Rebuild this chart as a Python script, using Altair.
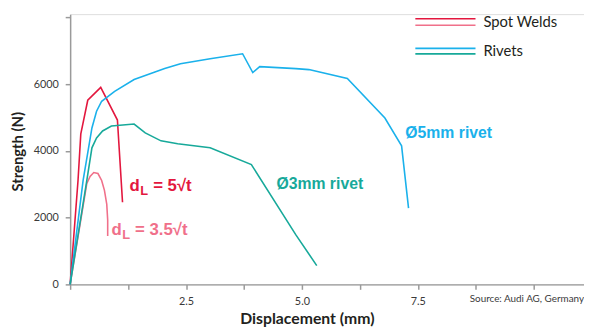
import altair as alt
import pandas as pd

# ---- data (displacement mm, strength N) ----
weld5_x = [0, 0.17, 0.23, 0.38, 0.66, 1.02, 1.13]
weld5_y = [0, 3115, 4510, 5519, 5905, 4925, 2463]

weld35_x = [0, 0.36, 0.43, 0.51, 0.60, 0.68, 0.74, 0.79, 0.81, 0.81]
weld35_y = [0, 3026, 3234, 3353, 3323, 3115, 2819, 2403, 1929, 1454]

rivet5_x = [0, 0.28, 0.47, 0.57, 0.68, 0.96, 1.38, 2.04, 2.38, 3.02, 3.72, 3.94, 4.09,
            4.87, 5.15, 5.98, 6.79, 7.15, 7.30]
rivet5_y = [0, 3115, 4688, 5192, 5489, 5786, 6142, 6468, 6616, 6765, 6913, 6349, 6527,
            6468, 6438, 6171, 4985, 4154, 2285]

rivet3_x = [0, 0.36, 0.47, 0.57, 0.70, 0.89, 1.38, 1.62, 1.96, 2.32, 3.02, 3.91, 4.87, 5.32]
rivet3_y = [0, 3115, 4094, 4391, 4599, 4747, 4807, 4540, 4302, 4213, 4094, 3590, 1484, 564]

series_names = ["weld5", "weld35", "rivet5", "rivet3"]
series_colors = ["#e3173e", "#f0708a", "#1ab1eb", "#17a99a"]

x_ticks = [0, 1.25, 2.5, 3.75, 5.0, 6.25, 7.5, 8.75, 10.0]
y_ticks = [0, 1000, 2000, 3000, 4000, 5000, 6000, 7000, 8000]

# curve annotations
ann_x = [1.28, 0.89]
ann_y = [2937, 1632]
ann_rest = ["= 5\u221at", "= 3.5\u221at"]
ann_color = ["#e3173e", "#f0708a"]

rivet_lbl_x = [7.23, 4.45]
rivet_lbl_y = [4540, 2997]
rivet_lbl_text = ["\u00d85mm rivet", "\u00d83mm rivet"]
rivet_lbl_color = ["#1ab1eb", "#17a99a"]

legend_labels = ["Spot Welds", "Rivets"]
legend_line_colors = ["#e3173e", "#f0708a", "#1ab1eb", "#17a99a"]

source_text = "Source: Audi AG, Germany"

# ---- build tables ----
rows = []
for name, xs_, ys_ in zip(series_names, [weld5_x, weld35_x, rivet5_x, rivet3_x],
                          [weld5_y, weld35_y, rivet5_y, rivet3_y]):
    for i, (xv, yv) in enumerate(zip(xs_, ys_)):
        rows.append({"series": name, "x": xv, "y": yv, "i": i})
df = pd.DataFrame(rows)

W, H = 521, 274
XMAX = W / 47.0
YMAX = 8100

xs = alt.Scale(domain=[0, XMAX], nice=False, zero=False)
ys = alt.Scale(domain=[0, YMAX], nice=False)

axis_common = dict(domainColor="#9a9a9a", domainWidth=1.5, tickColor="#9a9a9a",
                   tickWidth=1.5, tickSize=5, grid=False, labelFont="Lato",
                   labelFontSize=11, labelColor="#3a3a3a", titleFont="Lato",
                   titleFontWeight="bold", titleColor="#231f20")

x_enc = alt.X("x:Q", scale=xs, axis=alt.Axis(
    values=x_ticks, format=".1f",
    labelExpr="(datum.value == 2.5 || datum.value == 5 || datum.value == 7.5) ? datum.label : ''",
    title="Displacement (mm)", titleFontSize=16, titleX=240, titleY=35,
    titleBaseline="middle", titleAnchor="middle", labelPadding=6, **axis_common))
y_enc = alt.Y("y:Q", scale=ys, axis=alt.Axis(
    values=y_ticks, format="d",
    labelExpr="(datum.value % 2000 == 0 && datum.value < 8000) ? datum.label : ''",
    title="Strength (N)", titleFontSize=15, titleX=-53, titleY=139, titleAngle=-90,
    titleBaseline="middle", titleAlign="center", labelPadding=7, **axis_common))

lines = alt.Chart(df).mark_line(strokeWidth=1.6).encode(
    x=x_enc, y=y_enc,
    color=alt.Color("series:N", scale=alt.Scale(domain=series_names, range=series_colors), legend=None),
    detail="series:N",
    order="i:Q",
)

ann_df = pd.DataFrame({"x": ann_x, "y": ann_y, "rest": ann_rest, "c": ann_color, "d": ["d", "d"], "L": ["L", "L"]})
txt_font = "Liberation Sans"
ann_d = alt.Chart(ann_df).mark_text(align="left", baseline="middle", font=txt_font, fontWeight="bold",
                                    fontSize=17).encode(
    x=alt.X("x:Q", scale=xs), y=alt.Y("y:Q", scale=ys), text="d:N", color=alt.Color("c:N", scale=None))
ann_L = alt.Chart(ann_df).mark_text(align="left", baseline="middle", font=txt_font, fontWeight="bold",
                                    fontSize=13, dx=11, dy=5).encode(
    x=alt.X("x:Q", scale=xs), y=alt.Y("y:Q", scale=ys), text="L:N", color=alt.Color("c:N", scale=None))
ann_rest_ch = alt.Chart(ann_df).mark_text(align="left", baseline="middle", font=txt_font, fontWeight="bold",
                                          fontSize=17, dx=24).encode(
    x=alt.X("x:Q", scale=xs), y=alt.Y("y:Q", scale=ys), text="rest:N", color=alt.Color("c:N", scale=None))

riv_df = pd.DataFrame({"x": rivet_lbl_x, "y": rivet_lbl_y, "t": rivet_lbl_text, "c": rivet_lbl_color})
riv_txt = alt.Chart(riv_df).mark_text(align="left", baseline="middle", font=txt_font, fontWeight="bold",
                                      fontSize=16).encode(
    x=alt.X("x:Q", scale=xs), y=alt.Y("y:Q", scale=ys), text="t:N", color=alt.Color("c:N", scale=None))

# custom legend
leg_lines_df = pd.DataFrame({"yp": [4.7, 11.3, 34.7, 40.3], "c": legend_line_colors})
leg_lines = alt.Chart(leg_lines_df).mark_rule(strokeWidth=1.6).encode(
    x=alt.value(350), x2=alt.value(411), y=alt.Y("yp:Q", scale=None), color=alt.Color("c:N", scale=None))
leg_txt_df = pd.DataFrame({"yp": [8, 37], "t": legend_labels})
leg_txt = alt.Chart(leg_txt_df).mark_text(align="left", baseline="middle", font="Lato", fontSize=15,
                                          color="#231f20").encode(
    x=alt.value(419), y=alt.Y("yp:Q", scale=None), text="t:N")

src_df = pd.DataFrame({"t": [source_text]})
src = alt.Chart(src_df).mark_text(align="right", baseline="middle", font="Lato", fontSize=10,
                                  color="#3a3a3a").encode(
    x=alt.value(W), y=alt.value(H + 15), text="t:N")

chart = alt.layer(lines, ann_d, ann_L, ann_rest_ch, riv_txt, leg_lines, leg_txt, src).properties(
    width=W, height=H,
    autosize=alt.AutoSizeParams(type="none"),
    padding={"left": 63, "top": 4, "right": 0, "bottom": 43},
).configure_view(stroke=None).configure(background="white")

chart.save("out.html", embed_options={"renderer": "svg", "actions": False})
